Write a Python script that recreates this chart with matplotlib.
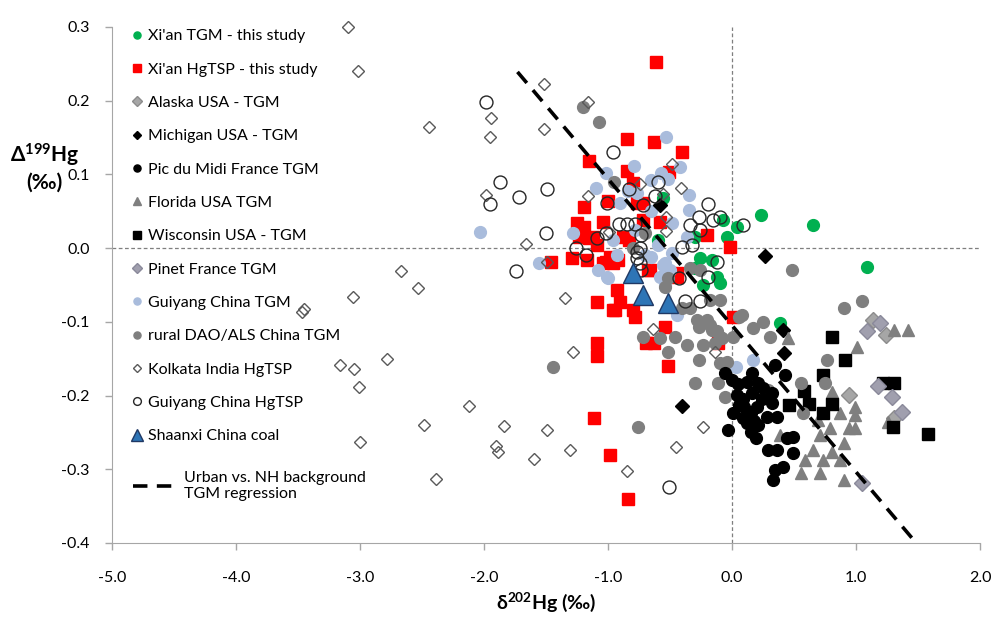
import matplotlib.pyplot as plt

plt.rcParams['font.family'] = ['Lato', 'DejaVu Sans']
plt.rcParams['mathtext.fontset'] = 'custom'
plt.rcParams['mathtext.rm'] = 'Lato'
plt.rcParams['mathtext.bf'] = 'Lato:bold'

# ---- data (delta202Hg, Delta199Hg) ----
xian_tgm_x = [0.23, -0.07, 0.04, -0.04, -0.56, -0.30, -0.26, -0.16, -0.30, -0.12,
              -0.23, -0.10, 0.39, 1.09, 0.65, -0.60]
xian_tgm_y = [0.045, 0.038, 0.028, 0.015, 0.068, 0.015, -0.014, -0.016, -0.027, -0.039,
              -0.050, -0.047, -0.102, -0.026, 0.031, 0.011]

xian_tsp_x = [-0.61, -0.85, -0.63, -0.40, -1.15, -0.85, -0.51, -0.80, -1.00, -1.19,
              -0.77, -0.58, -1.25, -1.04, -1.19, -0.72, -0.20, -1.23, -1.12, -0.88,
              -0.83, -0.02, -0.98, -1.17, -1.04, -0.92, -0.66, -0.44, -1.46, -1.29,
              -1.15, -1.09, -1.02, -0.96, -0.93, -1.09, -0.94, -0.90, -0.80, -0.78,
              -0.68, -0.44, -0.54, -1.09, -1.09, -0.69, -0.63, -0.52, -1.11, -0.96,
              -0.98, -0.84, 0.01, -0.11, -0.72]
xian_tsp_y = [0.252, 0.148, 0.144, 0.130, 0.118, 0.104, 0.103, 0.088, 0.064, 0.056,
              0.061, 0.035, 0.034, 0.035, 0.028, 0.038, 0.018, 0.015, 0.015, 0.015,
              0.011, 0.001, -0.012, -0.016, -0.020, -0.016, -0.030, -0.039, -0.019, -0.014,
              0.014, 0.004, -0.019, -0.020, -0.057, -0.073, -0.084, -0.073, -0.084, -0.094,
              -0.030, -0.034, -0.107, -0.129, -0.147, -0.129, -0.129, -0.160, -0.231, -0.084,
              -0.280, -0.341, -0.094, -0.129, 0.061]

alaska_x = [1.14, 1.24, 0.94, 1.31]
alaska_y = [-0.098, -0.118, -0.199, -0.231]

michigan_x = [0.27, 0.41, 0.42, -0.40, -0.58]
michigan_y = [-0.011, -0.111, -0.142, -0.214, 0.058]

pic_x = [-0.06, 0.00, 0.16, 0.35, 0.43, 0.12, 0.21, 0.04, 0.16, 0.32,
         0.06, 0.20, 0.32, 0.01, 0.15, 0.28, 0.36, 0.12, 0.21, -0.03,
         0.15, 0.19, 0.29, 0.36, 0.49, 0.35, 0.33, 0.41, 0.44, 0.49,
         0.09, 0.24, 0.09, 0.05, 0.25, 0.10, 0.18]
pic_y = [-0.170, -0.179, -0.170, -0.159, -0.172, -0.182, -0.183, -0.199, -0.197, -0.197,
         -0.213, -0.216, -0.210, -0.224, -0.224, -0.229, -0.229, -0.237, -0.240, -0.247,
         -0.250, -0.258, -0.274, -0.274, -0.278, -0.301, -0.315, -0.297, -0.258, -0.256,
         -0.205, -0.205, -0.230, -0.185, -0.190, -0.215, -0.235]

florida_x = [1.31, 1.42, 1.01, 0.45, 0.81, 0.99, 0.69, 0.79, 0.87, 0.94,
             0.99, 0.99, 0.71, 0.39, 0.90, 0.65, 0.81, 0.59, 0.87, 0.56,
             0.71, 0.90, 1.26, 0.73]
florida_y = [-0.111, -0.111, -0.134, -0.122, -0.195, -0.216, -0.233, -0.244, -0.224, -0.244,
             -0.244, -0.227, -0.254, -0.254, -0.265, -0.274, -0.277, -0.287, -0.287, -0.305,
             -0.305, -0.315, -0.236, -0.287]

wisconsin_x = [0.81, 0.91, 0.73, 0.58, 0.46, 0.62, 0.81, 0.73, 1.22, 1.31, 1.30, 1.58]
wisconsin_y = [-0.121, -0.152, -0.172, -0.194, -0.213, -0.212, -0.212, -0.224, -0.183, -0.183,
               -0.243, -0.252]

pinet_x = [1.19, 1.09, 1.18, 1.29, 1.37, 1.05]
pinet_y = [-0.102, -0.112, -0.187, -0.202, -0.222, -0.318]

gy_tgm_x = [-0.53, -0.79, -1.02, -1.10, -0.57, -0.65, -0.35, -0.35, -0.90, -0.42,
            -0.48, -1.28, -2.03, -0.52, -0.77, -0.65, -0.96, -0.78, -0.60, -0.36,
            -0.48, -1.01, -0.65, -0.56, -0.58, -0.50, -1.56, -1.08, -1.00, -0.93,
            -0.54, -0.54, -0.44, 0.17, 0.03, -0.70, -0.84]
gy_tgm_y = [0.151, 0.111, 0.102, 0.081, 0.102, 0.092, 0.072, 0.052, 0.061, 0.110,
            0.034, 0.020, 0.022, 0.094, 0.075, 0.050, 0.011, 0.024, 0.004, 0.015,
            -0.007, -0.039, -0.012, -0.023, -0.039, -0.030, -0.020, -0.030, -0.041, -0.009,
            -0.020, -0.050, -0.091, -0.152, -0.161, -0.010, 0.078]

rural_x = [-1.20, -1.07, -0.95, -0.70, -0.52, -0.34, -0.80, -0.26, -0.54, -0.40,
           -0.34, -0.18, -0.10, -0.28, -0.15, -0.08, -0.72, -0.58, -0.46, -0.52,
           -0.36, -0.23, -0.27, -0.04, -0.30, -0.11, -0.06, -1.44, -0.76, 0.06,
           0.01, 0.48, 0.08, 0.17, 0.25, 0.31, -0.27, -0.20, -0.16, -0.10,
           -0.14, -0.10, 0.56, 0.29, 0.90, 1.05, 0.77, 0.75, 0.57, -0.18, -0.12]
rural_y = [0.191, 0.171, 0.090, 0.020, -0.041, -0.027, 0.000, -0.030, -0.053, -0.081,
           -0.081, -0.071, -0.071, -0.098, -0.111, -0.122, -0.121, -0.122, -0.121, -0.141,
           -0.132, -0.132, -0.152, -0.155, -0.183, -0.183, -0.202, -0.161, -0.243, -0.094,
           -0.121, -0.030, -0.091, -0.109, -0.100, -0.121, -0.107, -0.098, -0.111, -0.121,
           -0.129, -0.156, -0.183, -0.193, -0.081, -0.072, -0.152, -0.183, -0.224, -0.104, -0.113]

kolkata_x = [-3.10, -3.02, -2.44, -1.52, -1.94, -1.95, -1.52, -1.16, -1.98, -1.66,
             -2.67, -2.53, -3.06, -3.47, -3.45, -1.35, -1.49, -0.48, -0.74, -0.41,
             -1.16, -0.53, -0.56, -0.53, -0.99, -3.16, -3.05, -3.01, -2.78, -2.12,
             -2.48, -3.00, -1.90, -1.89, -2.39, -1.84, -1.49, -1.60, -1.31, -1.28,
             -0.85, -0.64, -0.14, -0.23, -0.45]
kolkata_y = [0.300, 0.240, 0.164, 0.222, 0.176, 0.151, 0.161, 0.198, 0.072, 0.005,
             -0.031, -0.054, -0.066, -0.087, -0.082, -0.068, -0.019, 0.114, 0.087, 0.081,
             0.071, 0.023, 0.073, 0.042, 0.022, -0.159, -0.164, -0.189, -0.151, -0.214,
             -0.240, -0.263, -0.269, -0.277, -0.313, -0.241, -0.247, -0.286, -0.274, -0.141,
             -0.303, -0.110, -0.141, -0.243, -0.270]

gy_tsp_x = [-1.98, -1.87, -1.95, -1.72, -1.49, -1.50, -1.74, -1.26, -1.18, -0.96,
            -1.01, -0.60, -0.62, -0.83, -0.19, -0.91, -0.85, -0.78, -0.34, -0.27,
            -0.15, -0.10, 0.09, -0.72, -1.02, -1.09, -0.26, -0.40, -0.32, -0.74,
            -0.73, -0.12, -0.19, -0.77, -0.77, -0.43, -0.38, -0.26, -0.74, -0.73, -0.51]
gy_tsp_y = [0.198, 0.090, 0.060, 0.069, 0.080, 0.020, -0.031, 0.000, -0.010, 0.130,
            0.061, 0.090, 0.070, 0.080, 0.060, 0.033, 0.033, 0.033, 0.031, 0.042,
            0.038, 0.042, 0.031, 0.058, 0.020, 0.014, 0.024, 0.001, 0.004, 0.000,
            0.018, -0.019, -0.039, -0.014, -0.005, -0.041, -0.072, -0.072, -0.020, -0.030, -0.324]

coal_x = [-0.80, -0.72, -0.52]
coal_y = [-0.034, -0.064, -0.075]

# urban vs NH background TGM regression, end points
reg_x = [-1.73, 1.45]
reg_y = [0.239, -0.393]

# ---- plot ----
fig = plt.figure(figsize=(9.93, 6.18), dpi=100)
ax = fig.add_axes([0.1128, 0.1214, 0.8741, 0.835])

ax.axhline(0, color='#7f7f7f', lw=0.9, ls=(0, (3, 2)), zorder=1)
ax.axvline(0, color='#7f7f7f', lw=0.9, ls=(0, (3, 2)), zorder=1)

h = []
h += ax.plot(xian_tgm_x, xian_tgm_y, ls='none', marker='o', ms=8.5, mfc='#00b050', mec='#00b050',
             label="Xi'an TGM - this study", zorder=2)
h += ax.plot(xian_tsp_x, xian_tsp_y, ls='none', marker='s', ms=9, mfc='#ff0000', mec='#ff0000',
             label="Xi'an HgTSP - this study", zorder=2)
h += ax.plot(alaska_x, alaska_y, ls='none', marker='D', ms=8, mfc='#a6a6a6', mec='#8c8c8c',
             label='Alaska USA - TGM', zorder=3)
h += ax.plot(michigan_x, michigan_y, ls='none', marker='D', ms=7.5, mfc='black', mec='black',
             label='Michigan USA - TGM', zorder=3)
h += ax.plot(pic_x, pic_y, ls='none', marker='o', ms=8.5, mfc='black', mec='black',
             label='Pic du Midi France TGM', zorder=4)
h += ax.plot(florida_x, florida_y, ls='none', marker='^', ms=9, mfc='#7f7f7f', mec='#7f7f7f',
             label='Florida USA TGM', zorder=3)
h += ax.plot(wisconsin_x, wisconsin_y, ls='none', marker='s', ms=8.5, mfc='black', mec='black',
             label='Wisconsin USA - TGM', zorder=3)
h += ax.plot(pinet_x, pinet_y, ls='none', marker='D', ms=8, mfc='#a09fae', mec='#8a899a',
             label='Pinet France TGM', zorder=3)
h += ax.plot(gy_tgm_x, gy_tgm_y, ls='none', marker='o', ms=8.5, mfc='#a9bcdc', mec='#a9bcdc',
             label='Guiyang China TGM', zorder=2.5)
h += ax.plot(rural_x, rural_y, ls='none', marker='o', ms=8.5, mfc='#7f7f7f', mec='#7f7f7f',
             label='rural DAO/ALS China TGM', zorder=3)
h += ax.plot(kolkata_x, kolkata_y, ls='none', marker='D', ms=6.3, mfc='none', mec='#595959',
             mew=1.0, label='Kolkata India HgTSP', zorder=5, clip_on=False)
h += ax.plot(gy_tsp_x, gy_tsp_y, ls='none', marker='o', ms=9.3, mfc='none', mec='#262626',
             mew=1.0, label='Guiyang China HgTSP', zorder=5)
h += ax.plot(coal_x, coal_y, ls='none', marker='^', ms=15, mfc='#2e75b6', mec='#1f3864',
             mew=1.0, label='Shaanxi China coal', zorder=7)
reg = ax.plot(reg_x, reg_y, color='black', lw=2.6, dashes=(4, 2.6), zorder=6,
              label='Urban vs. NH background\nTGM regression')

ax.set_xlim(-5, 2)
ax.set_ylim(-0.4, 0.3)
ax.set_xticks([-5, -4, -3, -2, -1, 0, 1, 2])
ax.set_xticklabels(['-5.0', '-4.0', '-3.0', '-2.0', '-1.0', '0.0', '1.0', '2.0'])
ax.set_yticks([-0.4, -0.3, -0.2, -0.1, 0.0, 0.1, 0.2, 0.3])
ax.set_yticklabels(['-0.4', '-0.3', '-0.2', '-0.1', '0.0', '0.1', '0.2', '0.3'])
ax.tick_params(labelsize=11.5, color='#a6a6a6', length=5, width=1)
ax.tick_params(axis='y', pad=11)
ax.tick_params(axis='x', pad=15)
for s in ['top', 'right']:
    ax.spines[s].set_visible(False)
for s in ['left', 'bottom']:
    ax.spines[s].set_color('#a6a6a6')

fig.text(0.045, 0.748, r'$\mathbf{\Delta^{199}Hg}$', fontsize=15, ha='center', va='center')
fig.text(0.045, 0.705, '(‰)', fontsize=15, fontweight='bold', ha='center', va='center')
ax.set_xlabel(r'$\mathbf{\delta^{202}Hg}$ (‰)', fontsize=14, fontweight='bold', labelpad=4)

leg1 = ax.legend(handles=h, loc='upper left', bbox_to_anchor=(0.021, 0.996), frameon=False,
                 fontsize=11.5, markerscale=0.6, handlelength=0.8, handletextpad=0.3,
                 labelspacing=1.2, borderpad=0, borderaxespad=0)
ax.add_artist(leg1)
ax.legend(handles=reg, loc='upper left', bbox_to_anchor=(0.024, 0.14), frameon=False,
          fontsize=11.5, handlelength=2.6, handletextpad=0.6, labelspacing=0.2,
          borderpad=0, borderaxespad=0)

fig.savefig('out.png', dpi=100)
